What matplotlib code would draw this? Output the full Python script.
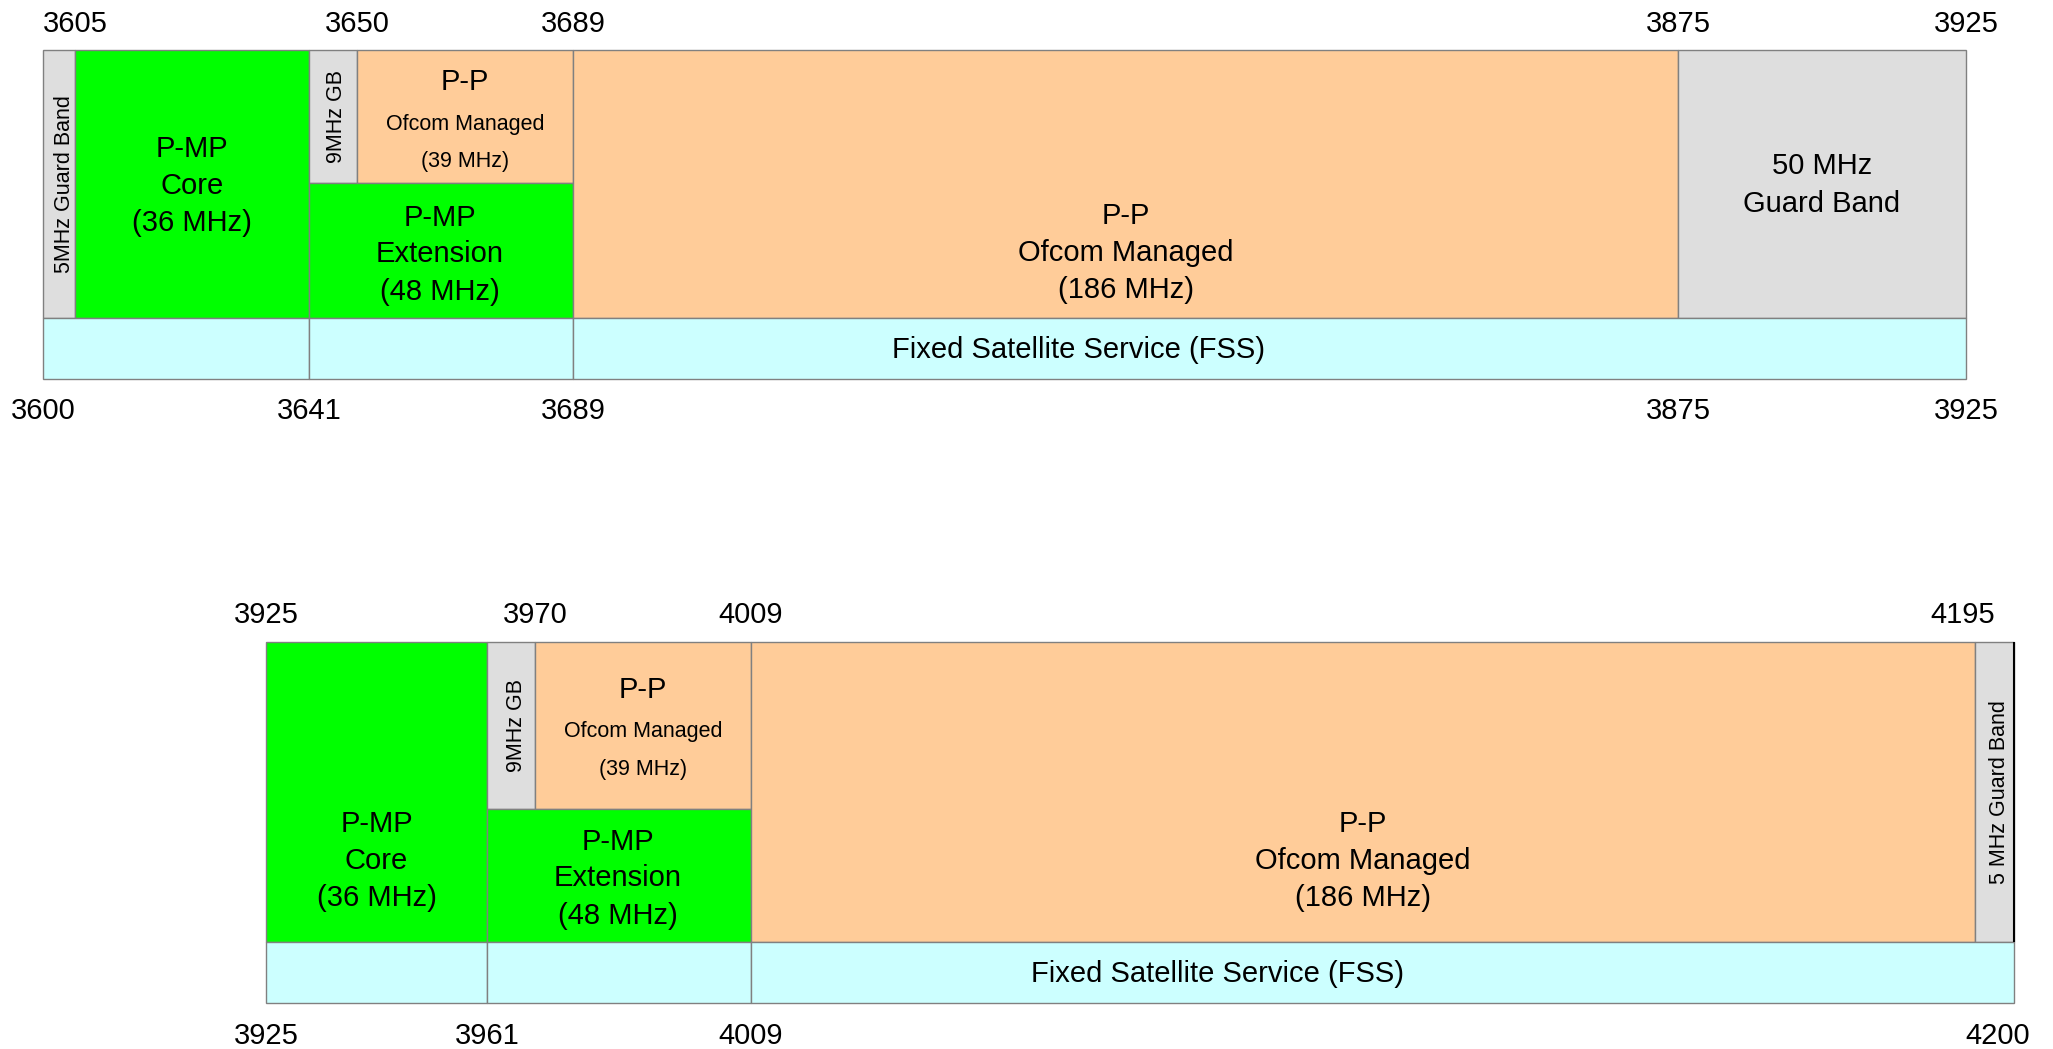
import matplotlib.pyplot as plt
import numpy as np
from matplotlib.transforms import ScaledTranslation

# ---- band plan data (MHz) ----
# upper panel 3600-3925
top_edges = [3600, 3605, 3641, 3650, 3689, 3875, 3925]
top_ticks_upper = [3605, 3650, 3689, 3875, 3925]
top_ticks_lower = [3600, 3641, 3689, 3875, 3925]
top_start = [3600, 3605, 3641, 3650, 3641, 3689, 3875, 3600, 3641, 3689]
top_end = [3605, 3641, 3650, 3689, 3689, 3875, 3925, 3641, 3689, 3925]
top_row = ['full', 'full', 'upper', 'upper', 'lower', 'full', 'full', 'fss', 'fss', 'fss']
top_kind = ['gb_v', 'pmp', 'gb_v', 'pp_small', 'pmp', 'pp', 'gb', 'fss', 'fss', 'fss']
top_text = ['5MHz Guard Band', 'P-MP\nCore\n(36 MHz)', '9MHz GB',
            'P-P\nOfcom Managed\n(39 MHz)', 'P-MP\nExtension\n(48 MHz)',
            'P-P\nOfcom Managed\n(186 MHz)', '50 MHz\nGuard Band',
            '', '', 'Fixed Satellite Service (FSS)']

# lower panel 3925-4200
bot_edges = [3925, 3961, 3970, 4009, 4195, 4200]
bot_ticks_upper = [3925, 3970, 4009, 4195]
bot_ticks_lower = [3925, 3961, 4009, 4200]
bot_start = [3925, 3961, 3970, 3961, 4009, 4195, 3925, 3961, 4009]
bot_end = [3961, 3970, 4009, 4009, 4195, 4200, 3961, 4009, 4200]
bot_row = ['full', 'upper', 'upper', 'lower', 'full', 'full', 'fss', 'fss', 'fss']
bot_kind = ['pmp', 'gb_v', 'pp_small', 'pmp', 'pp', 'gb_v', 'fss', 'fss', 'fss']
bot_text = ['P-MP\nCore\n(36 MHz)', '9MHz GB', 'P-P\nOfcom Managed\n(39 MHz)',
            'P-MP\nExtension\n(48 MHz)', 'P-P\nOfcom Managed\n(186 MHz)',
            '5 MHz Guard Band', '', '', 'Fixed Satellite Service (FSS)']

# ---- layout (pixels, schematic - not to scale) ----
W, H = 2053, 1049
top_px = [43, 75, 309, 357, 573, 1678, 1966]
bot_px = [266, 487, 535, 751, 1975, 2014]
top_box = (50, 379)
bot_box = (642, 1003)
top_rows = {'fss': (0, 61), 'lower': (61, 196), 'upper': (196, 329), 'full': (61, 329)}
bot_rows = {'fss': (0, 61), 'lower': (61, 194), 'upper': (194, 361), 'full': (61, 361)}
# label nudges (dx right, dy down) in pixels
top_shift = [(6, 0), (0, 2), (4, 0), (0, 5), (0, 4), (0, 69), (0, 1), (0, 0), (0, 0), (-196, 2)]
bot_shift = [(0, 69), (5, 0), (0, 4), (0, 3), (0, 69), (5, 0), (0, 0), (0, 0), (-162, 2)]
# tick label nudges (pixels) for the last upper / lower labels of the lower panel
bot_tick_nudge = (-12, -16)

colours = {'pmp': '#00FF00', 'pp': '#FFCC99', 'pp_small': '#FFCC99',
           'gb': '#DEDEDE', 'gb_v': '#DEDEDE', 'fss': '#CCFFFF'}
edge = '#808080'

plt.rcParams['font.family'] = ['Liberation Sans', 'DejaVu Sans']

fig = plt.figure(figsize=(W / 100, H / 100), dpi=100)


def put_label(ax, x, y, text, kind, dx, dy):
    lines = text.split('\n')
    if kind == 'gb_v':
        ax.annotate(text, (x, y), xytext=(dx, -dy), textcoords='offset pixels',
                    rotation=90, ha='center', va='center', fontsize=15.5)
        return
    if kind == 'pp_small':
        offs = [-39.5, 2.5, 39.5]
        sizes = [21, 15.5, 15.5]
    elif kind == 'gb':
        offs = [-18.5, 18.5]
        sizes = [21, 21]
    elif kind == 'fss':
        offs = [0]
        sizes = [21]
    else:
        offs = [-37, 0, 37]
        sizes = [21, 21, 21]
    for line, off, size in zip(lines, offs, sizes):
        ax.annotate(line, (x, y), xytext=(dx, -(dy + off)), textcoords='offset pixels',
                    ha='center', va='center', fontsize=size)


def panel(edges, px, box, rows, starts, ends, row, kind, text, shift,
          ticks_up, ticks_low, pad_up, pad_low):
    fwd = lambda f: np.interp(f, edges, px)
    inv = lambda p: np.interp(p, px, edges)
    ax = fig.add_axes([px[0] / W, (H - box[1]) / H,
                       (px[-1] - px[0]) / W, (box[1] - box[0]) / H])
    ax.set_xscale('function', functions=(fwd, inv))
    ax.set_xlim(edges[0], edges[-1])
    ax.set_ylim(0, box[1] - box[0])

    y0 = [rows[r][0] for r in row]
    hgt = [rows[r][1] - rows[r][0] for r in row]
    wid = [e - s for s, e in zip(starts, ends)]
    ax.bar(starts, hgt, width=wid, bottom=y0, align='edge',
           color=[colours[k] for k in kind], edgecolor=edge, linewidth=1.0,
           clip_on=False)

    for s, e, r, k, t, (dx, dy) in zip(starts, ends, row, kind, text, shift):
        if t:
            put_label(ax, (s + e) / 2, (rows[r][0] + rows[r][1]) / 2, t, k, dx, dy)

    for sp in ax.spines.values():
        sp.set_visible(False)
    ax.set_yticks([])
    ax.set_xticks(ticks_low, [str(t) for t in ticks_low])
    ax.tick_params(axis='x', length=0, labelsize=21, pad=pad_low)

    tw = ax.twiny()
    tw.set_xscale('function', functions=(fwd, inv))
    tw.set_xlim(edges[0], edges[-1])
    tw.set_xticks(ticks_up, [str(t) for t in ticks_up])
    tw.tick_params(axis='x', length=0, labelsize=21, pad=pad_up)
    for sp in tw.spines.values():
        sp.set_visible(False)
    return ax, tw


panel(top_edges, top_px, top_box, top_rows, top_start, top_end, top_row, top_kind,
      top_text, top_shift, top_ticks_upper, top_ticks_lower, 9, 13)
ax_b, tw_b = panel(bot_edges, bot_px, bot_box, bot_rows, bot_start, bot_end, bot_row,
                   bot_kind, bot_text, bot_shift, bot_ticks_upper, bot_ticks_lower, 9.5, 13.5)
# dark right edge of the 5 MHz guard band
ax_b.vlines(bot_edges[-1], bot_rows['full'][0], bot_rows['full'][1],
            color='black', linewidth=1.5, clip_on=False)

fig.canvas.draw()
for lab, nudge in zip([tw_b.get_xticklabels()[-1], ax_b.get_xticklabels()[-1]], bot_tick_nudge):
    lab.set_transform(lab.get_transform() + ScaledTranslation(nudge / 100, 0, fig.dpi_scale_trans))

fig.savefig('out.png', dpi=100)
